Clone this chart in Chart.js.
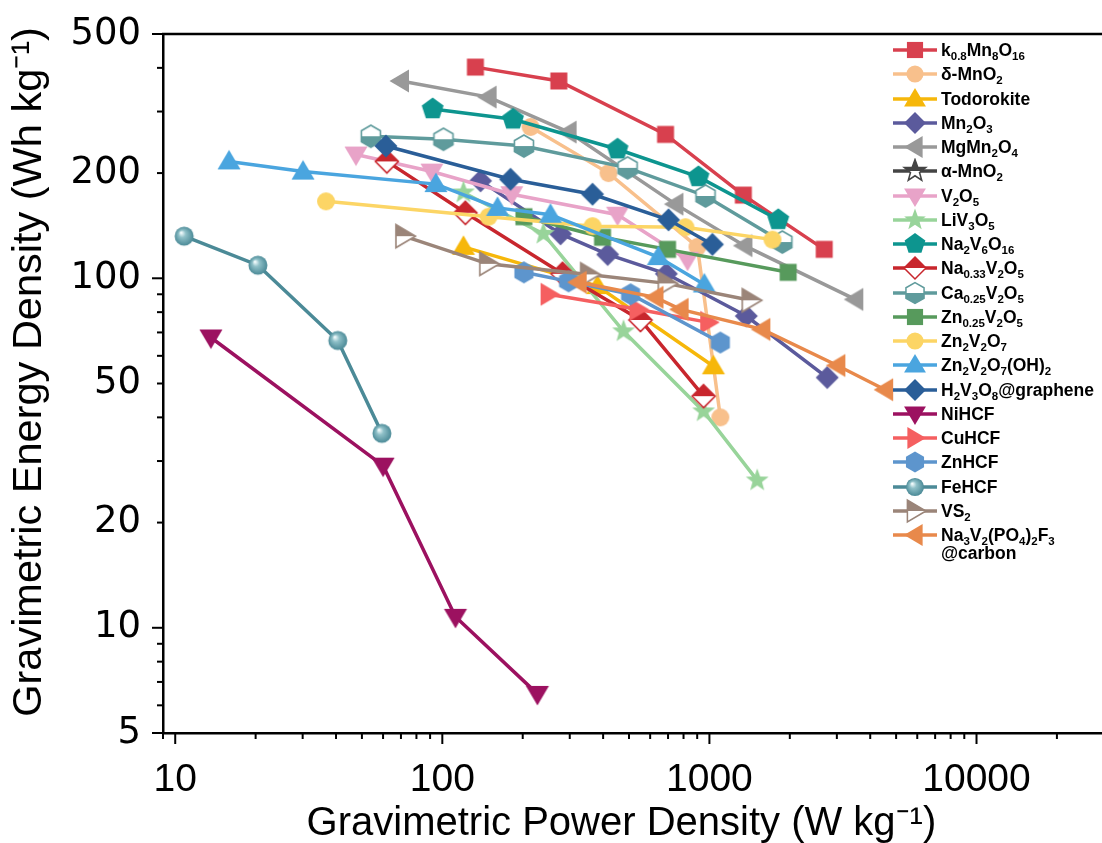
<!DOCTYPE html>
<html><head><meta charset="utf-8">
<script src="https://cdn.jsdelivr.net/npm/chart.js@4.4.0/dist/chart.umd.min.js"></script>
<style>
html,body{margin:0;padding:0;background:#fff;}
#wrap{position:relative;width:1102px;height:843px;overflow:hidden;}
#legend{position:absolute;left:0;top:0;font-family:"Liberation Sans",Arial,sans-serif;font-weight:bold;font-size:17.5px;color:#000;}
.item{position:absolute;white-space:nowrap;line-height:18px;}
.icon{position:absolute;}
sub{font-size:11.5px;vertical-align:-4px;line-height:0;}
</style></head>
<body><div id="wrap"><canvas id="c" width="1102" height="843"></canvas><div id="legend"></div></div>
<script>
// ---------- data ----------
const X_TICKS = [9,10,20,30,40,50,60,70,80,90,100,200,300,400,500,600,700,800,900,1000,2000,3000,4000,5000,6000,7000,8000,9000,10000,20000];
const X_LABELS = [10,100,1000,10000];
const X_MAJOR = [10,100,1000,10000];
const Y_TICKS = [5,6,7,8,9,10,20,30,40,50,60,70,80,90,100,200,300,400,500];
const Y_LABELS = [5,10,20,50,100,200,500];
const Y_MAJOR = [5,10,100,500];

const K08_P = [133,273,685,1340,2690];           const K08_E = [402,367,258,173,121];
const DMNO2_P = [214,419,902,1099];               const DMNO2_E = [271,200,123,40];
const TODO_P = [120,381,1035];                    const TODO_E = [123,95,56];
const MN2O3_P = [139,277,416,690,1374,2761];      const MN2O3_E = [190,134,117,103,78,52];
const MGMN_P = [70,149,297,746,1352,3516];        const MGMN_E = [367,330,262,163,124,87];
const AMNO2_P = [];                               const AMNO2_E = [];
const V2O5_P = [47.5,91.4,182,453,828];           const V2O5_E = [226,202,174,152,113];
const LIV_P = [120,239,477,951,1510];             const LIV_E = [176,134,70.5,41.6,26.4];
const NA2V6_P = [92,184,453,910,1811];            const NA2V6_E = [305,285,234,195,147];
const NA033_P = [62,122,282,552,951];             const NA033_E = [216,154,103,76,46];
const CA025_P = [54,101,202,494,967,1875];        const CA025_E = [255,250,239,207,172,127];
const ZN025_P = [202,398,697,1972];               const ZN025_E = [150,131,121,104];
const ZN2V_P = [36.7,149,365,813,1722];           const ZN2V_E = [166,150,141,140,129];
const ZN2VOH_P = [15.9,30.1,94.6,161,254,644,957]; const ZN2VOH_E = [216,202,186,159,152,115,96];
const H2V_P = [61.5,180,365,703,1026];            const H2V_E = [239,192,174,147,125];
const NIHCF_P = [13.6,60,112,227];                const NIHCF_E = [67.7,29.1,10.75,6.47];
const CUHCF_P = [250,538,990];                    const CUHCF_E = [90,81.5,74.8];
const ZNHCF_P = [202,297,507,1099];               const ZNHCF_E = [104,98,90,65.5];
const FEHCF_P = [10.8,20.4,40.6,59.4];            const FEHCF_E = [132,109,66.4,36];
const VS2_P = [71.8,148,353,690,1422];            const VS2_E = [132,110,102.6,96.7,86.5];
const NA3V_P = [324,628,780,1578,3013,4549];      const NA3V_E = [97.4,88.2,81.5,71.4,56.3,48];

const SERIES_NAMES = ['k0.8Mn8O16','δ-MnO2','Todorokite','Mn2O3','MgMn2O4','α-MnO2','V2O5','LiV3O5','Na2V6O16','Na0.33V2O5','Ca0.25V2O5','Zn0.25V2O5','Zn2V2O7','Zn2V2O7(OH)2','H2V3O8@graphene','NiHCF','CuHCF','ZnHCF','FeHCF','VS2','Na3V2(PO4)2F3@carbon'];
const LEGEND_HTML = ['k<sub>0.8</sub>Mn<sub>8</sub>O<sub>16</sub>','δ-MnO<sub>2</sub>','Todorokite','Mn<sub>2</sub>O<sub>3</sub>','MgMn<sub>2</sub>O<sub>4</sub>','α-MnO<sub>2</sub>','V<sub>2</sub>O<sub>5</sub>','LiV<sub>3</sub>O<sub>5</sub>','Na<sub>2</sub>V<sub>6</sub>O<sub>16</sub>','Na<sub>0.33</sub>V<sub>2</sub>O<sub>5</sub>','Ca<sub>0.25</sub>V<sub>2</sub>O<sub>5</sub>','Zn<sub>0.25</sub>V<sub>2</sub>O<sub>5</sub>','Zn<sub>2</sub>V<sub>2</sub>O<sub>7</sub>','Zn<sub>2</sub>V<sub>2</sub>O<sub>7</sub>(OH)<sub>2</sub>','H<sub>2</sub>V<sub>3</sub>O<sub>8</sub>@graphene','NiHCF','CuHCF','ZnHCF','FeHCF','VS<sub>2</sub>','Na<sub>3</sub>V<sub>2</sub>(PO<sub>4</sub>)<sub>2</sub>F<sub>3</sub><br>@carbon'];
const POWER = [K08_P,DMNO2_P,TODO_P,MN2O3_P,MGMN_P,AMNO2_P,V2O5_P,LIV_P,NA2V6_P,NA033_P,CA025_P,ZN025_P,ZN2V_P,ZN2VOH_P,H2V_P,NIHCF_P,CUHCF_P,ZNHCF_P,FEHCF_P,VS2_P,NA3V_P];
const ENERGY = [K08_E,DMNO2_E,TODO_E,MN2O3_E,MGMN_E,AMNO2_E,V2O5_E,LIV_E,NA2V6_E,NA033_E,CA025_E,ZN025_E,ZN2V_E,ZN2VOH_E,H2V_E,NIHCF_E,CUHCF_E,ZNHCF_E,FEHCF_E,VS2_E,NA3V_E];

// ---------- style ----------
const COLORS = ['#d8404e','#f8c08c','#f6b70a','#5b5a9c','#999999','#444444','#e8a3c8','#98d49a','#0d958f','#c8262d','#5f9b9c','#579a5c','#fcd565','#4aa5df','#2a5e98','#9c1160','#f55f60','#5d95cd','#4b8a97','#9b8579','#e8894b'];
const MARKERS = ['square','circle','triUp','diamond','triLeft','halfStar','triDown','star','pentagon','halfDiamond','halfHex','square','circle','triUp','diamond','triDown','triRight','hexagon','sphere','halfTriRight','triLeft'];

function poly(ctx, pts){ctx.beginPath();pts.forEach((p,i)=>i?ctx.lineTo(p[0],p[1]):ctx.moveTo(p[0],p[1]));ctx.closePath();}
function rotPts(pts,deg){const a=deg*Math.PI/180,c=Math.cos(a),s=Math.sin(a);return pts.map(p=>[p[0]*c-p[1]*s,p[0]*s+p[1]*c]);}
function regPts(n,r,start){const o=[];for(let k=0;k<n;k++){const a=(start+360*k/n)*Math.PI/180;o.push([r*Math.cos(a),r*Math.sin(a)]);}return o;}
function starPts(ro,ri){const o=[];for(let k=0;k<10;k++){const r=k%2?ri:ro;const a=(-90+36*k)*Math.PI/180;o.push([r*Math.cos(a),r*Math.sin(a)]);}return o;}
const TRI = [[0,-11.5],[11.5,8],[-11.5,8]];

function drawShape(ctx,type,color,cx,cy,sc){
  sc = sc||1;
  ctx.save(); ctx.translate(cx,cy); ctx.scale(sc,sc);
  let pts=null, half=0;
  switch(type){
    case 'square': pts=[[-8.5,-8.5],[8.5,-8.5],[8.5,8.5],[-8.5,8.5]]; break;
    case 'circle': ctx.beginPath(); ctx.arc(0,0,9,0,Math.PI*2); ctx.fillStyle=color; ctx.fill(); ctx.restore(); return;
    case 'sphere': {
      const g=ctx.createRadialGradient(-3,-3.5,0.5,0,0,9.5);
      g.addColorStop(0,'#f2fbfc'); g.addColorStop(0.35,'#8fc0c8'); g.addColorStop(1,color);
      ctx.beginPath(); ctx.arc(0,0,9.5,0,Math.PI*2); ctx.fillStyle=g; ctx.fill(); ctx.restore(); return; }
    case 'triUp': pts=TRI; break;
    case 'triDown': pts=rotPts(TRI,180); break;
    case 'triLeft': pts=rotPts(TRI,-90); break;
    case 'triRight': pts=rotPts(TRI,90); break;
    case 'halfTriRight': pts=rotPts(TRI,90); half=1; break;
    case 'diamond': pts=[[0,-11.5],[11.5,0],[0,11.5],[-11.5,0]]; break;
    case 'halfDiamond': pts=[[0,-11.5],[11.5,0],[0,11.5],[-11.5,0]]; half=1; break;
    case 'pentagon': pts=regPts(5,11.5,-90); break;
    case 'hexagon': pts=regPts(6,11,-90); break;
    case 'halfHex': pts=regPts(6,11,-90); half=-1; break;
    case 'star': pts=starPts(12,5); break;
    case 'halfStar': pts=starPts(12,5); half=1; break;
  }
  if(!half){ poly(ctx,pts); ctx.fillStyle=color; ctx.fill(); }
  else {
    poly(ctx,pts); ctx.fillStyle='#fff'; ctx.fill();
    ctx.save(); poly(ctx,pts); ctx.clip();
    ctx.fillStyle=color;
    if(half>0) ctx.fillRect(-20,-20,40,20); else ctx.fillRect(-20,0,40,20);
    ctx.restore();
    poly(ctx,pts); ctx.strokeStyle=color; ctx.lineWidth=1.6; ctx.stroke();
  }
  ctx.restore();
}
function makeMarker(type,color){
  const c=document.createElement('canvas'); c.width=28; c.height=28;
  drawShape(c.getContext('2d'),type,color,14,14,1);
  return c;
}

// ---------- chart ----------
const FONT = '"Liberation Sans", Arial, sans-serif';
const datasets = SERIES_NAMES.map((name,i)=>({
  label: name,
  data: POWER[i].map((p,j)=>({x:p,y:ENERGY[i][j]})),
  borderColor: COLORS[i], backgroundColor: COLORS[i],
  borderWidth: 3.5, tension: 0,
  pointStyle: makeMarker(MARKERS[i],COLORS[i]),
  pointRadius: 10, pointHoverRadius: 10,
  order: SERIES_NAMES.length - i
}));

const frameTicks = {
  id:'frameTicks',
  afterDraw(chart){
    const ctx=chart.ctx, a=chart.chartArea, xs=chart.scales.x, ys=chart.scales.y;
    ctx.save(); ctx.strokeStyle='#000'; ctx.lineWidth=2;
    X_TICKS.forEach(v=>{ if(v<xs.min||v>xs.max) return; const px=xs.getPixelForValue(v); const l=X_MAJOR.includes(v)?11:6;
      ctx.beginPath(); ctx.moveTo(px,a.bottom); ctx.lineTo(px,a.bottom+l); ctx.stroke(); });
    Y_TICKS.forEach(v=>{ const py=ys.getPixelForValue(v); const l=Y_MAJOR.includes(v)?11:6;
      ctx.beginPath(); ctx.moveTo(a.left,py); ctx.lineTo(a.left-l,py); ctx.stroke(); });
    ctx.lineWidth=2.5;
    ctx.beginPath(); ctx.moveTo(a.left-1,a.top); ctx.lineTo(chart.width,a.top); ctx.stroke();
    ctx.restore();
  }
};

new Chart(document.getElementById('c'),{
  type:'line',
  data:{datasets},
  options:{
    responsive:false, animation:false,
    layout:{autoPadding:false,padding:{top:34,right:0,left:0,bottom:0}},
    plugins:{legend:{display:false},tooltip:{enabled:false}},
    scales:{
      x:{type:'logarithmic',min:9,max:29500,position:'bottom',
        afterBuildTicks:sc=>{sc.ticks=X_TICKS.map(v=>({value:v}));},
        afterFit:sc=>{sc.height=110;},
        ticks:{autoSkip:false,maxRotation:0,minRotation:0,padding:0,color:'#000',font:{family:FONT,size:39},
          callback:v=>X_LABELS.includes(v)?String(v):''},
        grid:{display:false,drawTicks:true,tickLength:24},
        border:{display:true,color:'#000',width:2.5},
        title:{display:true,text:'Gravimetric Power Density (W kg⁻¹)\u00a0\u00a0',color:'#000',font:{family:FONT,size:40,lineHeight:0.7},padding:{top:0,bottom:5}}
      },
      y:{type:'logarithmic',min:5,max:500,
        afterBuildTicks:sc=>{sc.ticks=Y_TICKS.map(v=>({value:v}));},
        afterFit:sc=>{sc.width=163;},
        ticks:{autoSkip:false,padding:0,color:'#000',font:{family:'"DejaVu Sans", sans-serif',size:37},
          callback:v=>Y_LABELS.includes(v)?String(v):''},
        grid:{display:false,drawTicks:true,tickLength:22},
        border:{display:true,color:'#000',width:2.5},
        title:{display:true,text:'\u00a0\u00a0Gravimetric Energy Density (Wh kg⁻¹)',color:'#000',font:{family:FONT,size:41.5},padding:{top:5,bottom:0}}
      }
    }
  },
  plugins:[frameTicks]
});

// ---------- legend ----------
const lg=document.getElementById('legend');
SERIES_NAMES.forEach((n,i)=>{
  const cy=50+i*24.25;
  const ic=document.createElement('canvas'); ic.width=50; ic.height=26; ic.className='icon';
  ic.style.left='890px'; ic.style.top=(cy-13)+'px';
  const g=ic.getContext('2d');
  g.strokeStyle=COLORS[i]; g.lineWidth=3.5; g.beginPath(); g.moveTo(3,13); g.lineTo(47,13); g.stroke();
  drawShape(g,MARKERS[i],COLORS[i],25,13,0.95);
  lg.appendChild(ic);
  const t=document.createElement('div'); t.className='item'; t.innerHTML=LEGEND_HTML[i];
  t.style.left='941px'; t.style.top=(cy-9)+'px';
  lg.appendChild(t);
});
</script>
</body></html>
